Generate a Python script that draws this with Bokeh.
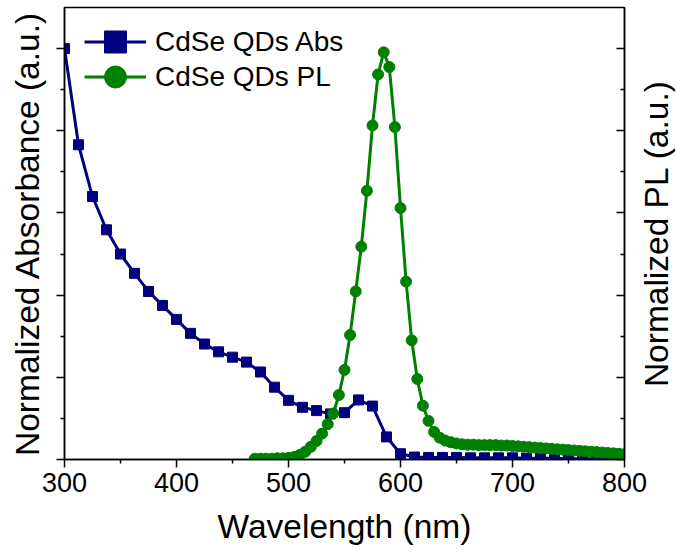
import math
import numpy as np
from bokeh.plotting import figure
from bokeh.models import LinearAxis, Range1d, FixedTicker, Legend, LegendItem, ColumnDataSource, Label
from bokeh.embed import file_html
from bokeh.resources import INLINE

# ---------------- data ----------------
abs_wavelength = [300, 312.5, 325, 337.5, 350, 362.5, 375, 387.5, 400, 412.5,
                  425, 437.5, 450, 462.5, 475, 487.5, 500, 512.5, 525, 537.5,
                  550, 562.5, 575, 587.5, 600, 612.5, 625, 637.5, 650, 662.5,
                  675, 687.5, 700, 712.5, 725, 737.5, 750, 762.5, 775, 787.5, 800]
abs_values = [1.000, 0.766, 0.640, 0.559, 0.500, 0.453, 0.409, 0.375, 0.341, 0.307,
              0.281, 0.262, 0.249, 0.237, 0.213, 0.176, 0.144, 0.127, 0.119, 0.111,
              0.114, 0.145, 0.130, 0.055, 0.014, 0.006, 0.005, 0.005, 0.005, 0.004,
              0.004, 0.004, 0.004, 0.003, 0.003, 0.003, 0.002, 0.002, 0.001, 0.001, 0.000]

pl_wavelength = [470, 475, 480, 485, 490, 495, 500, 505, 510, 515,
                 520, 525, 530, 535, 540, 545, 550, 555, 560, 565,
                 570, 575, 580, 585, 590, 595, 600, 605, 610, 615,
                 620, 625, 630, 635, 640, 645, 650, 655, 660, 665,
                 670, 675, 680, 685, 690, 695, 700, 705, 710, 715,
                 720, 725, 730, 735, 740, 745, 750, 755, 760, 765,
                 770, 775, 780, 785, 790, 795, 800]
pl_values = [0.002, 0.002, 0.002, 0.002, 0.003, 0.003, 0.004, 0.006, 0.011, 0.019,
             0.031, 0.045, 0.063, 0.086, 0.112, 0.157, 0.218, 0.303, 0.409, 0.518,
             0.654, 0.813, 0.937, 0.991, 0.955, 0.809, 0.612, 0.433, 0.290, 0.196,
             0.131, 0.094, 0.067, 0.053, 0.046, 0.042, 0.039, 0.037, 0.036, 0.036,
             0.035, 0.035, 0.035, 0.035, 0.034, 0.034, 0.033, 0.032, 0.031, 0.030,
             0.029, 0.028, 0.027, 0.026, 0.025, 0.024, 0.023, 0.022, 0.021, 0.020,
             0.019, 0.018, 0.017, 0.016, 0.015, 0.014, 0.013]

x_major_ticks = [300, 400, 500, 600, 700, 800]
x_minor_ticks = [350, 450, 550, 650, 750]
y_major_ticks = [0.0, 0.2, 0.4, 0.6, 0.8, 1.0]
y_minor_ticks = [0.1, 0.3, 0.5, 0.7, 0.9]

abs_label = "CdSe QDs Abs"
pl_label = "CdSe QDs PL"
x_title = "Wavelength (nm)"
y_left_title = "Normalized Absorbance (a.u.)"
y_right_title = "Normalized PL (a.u.)"

ABS_COLOR = "#000080"
PL_COLOR = "#008000"
FONT = "Liberation Sans"

# ---------------- figure ----------------
p = figure(width=676, height=555,
           x_range=Range1d(300, 800), y_range=Range1d(0, 1.1),
           output_backend="svg", toolbar_location=None,
           min_border_left=64, min_border_right=52,
           min_border_top=7, min_border_bottom=96)
p.extra_y_ranges = {"pl": Range1d(0, 1.1)}
p.xgrid.visible = False
p.ygrid.visible = False
p.outline_line_color = "black"
p.outline_line_width = 1.5
p.outline_line_alpha = 1.0
p.background_fill_color = "white"
p.border_fill_color = "white"

abs_src = ColumnDataSource(dict(x=abs_wavelength, y=abs_values))
pl_src = ColumnDataSource(dict(x=pl_wavelength, y=pl_values))

p.line("x", "y", source=abs_src, line_color=ABS_COLOR, line_width=3)
p.scatter("x", "y", source=abs_src, marker="square", size=10,
          fill_color=ABS_COLOR, line_color=ABS_COLOR)

p.line("x", "y", source=pl_src, y_range_name="pl", line_color=PL_COLOR, line_width=3)
p.scatter("x", "y", source=pl_src, y_range_name="pl", marker="circle", size=11,
          fill_color=PL_COLOR, line_color=PL_COLOR)

# legend-only renderers (no visible data)
nan_src = ColumnDataSource(dict(x=np.array([np.nan]), y=np.array([np.nan])))
la = p.line("x", "y", source=nan_src, line_color=ABS_COLOR, line_width=3)
ma = p.scatter("x", "y", source=nan_src, marker="square", size=22,
               fill_color=ABS_COLOR, line_color=ABS_COLOR)
lp = p.line("x", "y", source=nan_src, line_color=PL_COLOR, line_width=3)
mp = p.scatter("x", "y", source=nan_src, marker="circle", size=22,
               fill_color=PL_COLOR, line_color=PL_COLOR)


def make_legend(label, renderers, loc):
    lg = Legend(items=[LegendItem(label=label, renderers=renderers)], location=loc)
    lg.glyph_width = 62
    lg.glyph_height = 55
    lg.label_standoff = 9
    lg.spacing = 0
    lg.padding = 0
    lg.margin = 0
    lg.label_text_font = FONT
    lg.label_text_font_size = "28px"
    lg.label_text_color = "black"
    lg.border_line_alpha = 0
    lg.background_fill_alpha = 0
    return lg


p.add_layout(make_legend(abs_label, [la, ma], (20, 390)))
p.add_layout(make_legend(pl_label, [lp, mp], (20, 355)))

# ---------------- axes ----------------
xa = p.xaxis[0]
xa.ticker = FixedTicker(ticks=x_major_ticks, minor_ticks=x_minor_ticks)
xa.axis_label = x_title
xa.major_tick_out = 8
xa.major_tick_in = 0
xa.minor_tick_out = 4
xa.minor_tick_in = 0
xa.major_label_standoff = 5
xa.axis_label_standoff = 13
xa.major_label_text_font = FONT
xa.major_label_text_font_size = "27px"
xa.major_label_text_color = "black"
xa.axis_label_text_font = FONT
xa.axis_label_text_font_size = "33.5px"
xa.axis_label_text_font_style = "normal"
xa.axis_label_text_color = "black"

ya = p.yaxis[0]
ya.ticker = FixedTicker(ticks=y_major_ticks, minor_ticks=y_minor_ticks)
ya.axis_label = y_left_title
ya.major_tick_out = 8
ya.major_tick_in = 0
ya.minor_tick_out = 4
ya.minor_tick_in = 0
ya.major_label_overrides = {t: "" for t in y_major_ticks}
ya.major_label_text_color = None
ya.major_label_standoff = 0
ya.axis_label_standoff = 11
ya.axis_label_text_font = FONT
ya.axis_label_text_font_size = "33.5px"
ya.axis_label_text_font_style = "normal"
ya.axis_label_text_color = "black"

ra = LinearAxis(y_range_name="pl")
ra.ticker = FixedTicker(ticks=y_major_ticks, minor_ticks=y_minor_ticks)
ra.major_tick_out = 0
ra.major_tick_in = 8
ra.minor_tick_out = 0
ra.minor_tick_in = 4
ra.major_label_overrides = {t: "" for t in y_major_ticks}
ra.major_label_text_color = None
ra.major_label_standoff = 0
ra.axis_label_standoff = 0
p.add_layout(ra, "right")

# right-hand axis title, reading bottom-to-top like the original
frame_w = 676 - 64 - 52
x_per_px = (800 - 300) / frame_w
right_title = Label(x=800 + 32 * x_per_px, y=0.55, y_range_name="pl",
                    text=y_right_title, angle=math.pi / 2,
                    text_align="center", text_baseline="alphabetic",
                    text_font=FONT, text_font_size="33.5px", text_color="black")
p.add_layout(right_title, "right")

for ax in (xa, ya, ra):
    ax.axis_line_width = 1.5
    ax.major_tick_line_width = 1.5
    ax.minor_tick_line_width = 1.5
    ax.axis_line_color = "black"
    ax.major_tick_line_color = "black"
    ax.minor_tick_line_color = "black"

open("out.html", "w").write(file_html(p, INLINE))
